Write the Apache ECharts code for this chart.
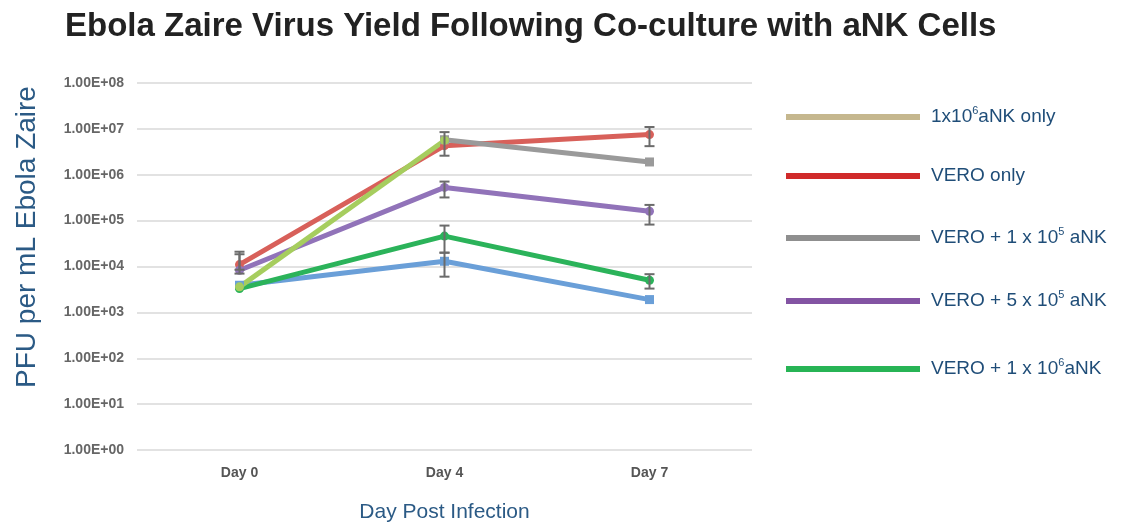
<!DOCTYPE html>
<html><head><meta charset="utf-8">
<script src="https://cdn.jsdelivr.net/npm/echarts@6/dist/echarts.min.js"></script>
<style>html,body{margin:0;padding:0;background:#fff;overflow:hidden}#c{width:1141px;height:528px}</style>
</head><body><div id="c"></div>
<script>
const categories = ['Day 0', 'Day 4', 'Day 7'];

// series values (PFU per mL)
const aNKOnly   = [3600, 5600000, null];
const veroOnly  = [11000, 4300000, 7500000];
const vero1e5   = [null, 5800000, 1900000];
const vero5e5   = [8300, 530000, 160000];
const vero1e6   = [3300, 46000, 5000];
const veroOther = [3900, 13000, 1900];

// error bar ranges (low / high)
const veroOnlyLow  = [8500, 2600000, 4200000];
const veroOnlyHigh = [21000, 8500000, 11000000];
const vero5e5Low   = [7000, 320000, 82000];
const vero5e5High  = [18500, 710000, 220000];
const vero1e6Low   = [null, 20000, 3300];
const vero1e6High  = [null, 78000, 6800];
const veroOtherLow  = [null, 6000, null];
const veroOtherHigh = [null, 20000, null];

const legendNames = ['aNK only', 'VERO only', 'VERO + 1e5 aNK', 'VERO + 5e5 aNK', 'VERO + 1e6 aNK'];
const legendLabels = ['1x10{sup|6}aNK only', 'VERO only', 'VERO + 1 x 10{sup|5} aNK', 'VERO + 5 x 10{sup|5} aNK', 'VERO + 1 x 10{sup|6}aNK'];
const legendColors = ['#c5b78e', '#d02a2a', '#8f8f8f', '#8354a3', '#27b455'];
const legendY = [117, 176, 238, 301, 369];

const FONT = 'Liberation Sans, Arial, sans-serif';
const chart = echarts.init(document.getElementById('c'));

function errSeries(low, high) {
  const d = [];
  low.forEach((l, i) => { if (l != null && high[i] != null) d.push([i, l, high[i]]); });
  return {
    type: 'custom', z: 10, silent: true, data: d,
    renderItem: function (params, api) {
      const x = api.value(0);
      const lo = api.coord([x, api.value(1)]);
      const hi = api.coord([x, api.value(2)]);
      const hw = 5;
      const st = { stroke: '#6b6b6b', lineWidth: 2 };
      return { type: 'group', children: [
        { type: 'line', shape: { x1: lo[0], y1: lo[1], x2: hi[0], y2: hi[1] }, style: st },
        { type: 'line', shape: { x1: lo[0]-hw, y1: lo[1], x2: lo[0]+hw, y2: lo[1] }, style: st },
        { type: 'line', shape: { x1: hi[0]-hw, y1: hi[1], x2: hi[0]+hw, y2: hi[1] }, style: st }
      ]};
    }
  };
}

function lineSeries(name, data, color, symbol) {
  return {
    name: name, type: 'line', data: data, connectNulls: false,
    symbol: symbol, symbolSize: 9, showSymbol: true,
    lineStyle: { color: color, width: 5 },
    itemStyle: { color: color }
  };
}

function fmtE(v) {
  const e = Math.round(Math.log10(v));
  return '1.00E+' + (e < 10 ? '0' + e : e);
}

const legends = legendNames.map((n, i) => ({
  data: [{ name: n, icon: 'rect', itemStyle: { color: legendColors[i] } }],
  left: 786, top: legendY[i] - 12, padding: 0,
  itemWidth: 134, itemHeight: 6,
  selectedMode: false,
  formatter: () => legendLabels[i],
  textStyle: {
    color: '#1f4d78', fontSize: 19, fontFamily: FONT,
    lineHeight: 24, padding: [0, 0, 0, 6],
    rich: { sup: { fontSize: 11, color: '#1f4d78', lineHeight: 12, verticalAlign: 'top', fontFamily: FONT } }
  }
}));

chart.setOption({
  animation: false,
  backgroundColor: '#fff',
  title: {
    text: 'Ebola Zaire Virus Yield Following Co-culture with aNK Cells',
    left: 60, top: 5,
    textStyle: { fontSize: 33, fontWeight: 'bold', color: '#222', fontFamily: FONT }
  },
  legend: legends,
  grid: { left: 137, right: 389, top: 83, bottom: 64, containLabel: false },
  xAxis: {
    type: 'category', data: categories, boundaryGap: true,
    axisLine: { show: false }, axisTick: { show: false },
    axisLabel: { color: '#555', fontWeight: 'bold', fontSize: 14, margin: 16, fontFamily: FONT },
    name: 'Day Post Infection', nameLocation: 'middle', nameGap: 52,
    nameTextStyle: { color: '#2b5a85', fontSize: 21, fontFamily: FONT }
  },
  yAxis: {
    type: 'log', logBase: 10, min: 1, max: 100000000,
    axisLine: { show: false }, axisTick: { show: false },
    splitLine: { lineStyle: { color: '#e2e2e2', width: 2 } },
    axisLabel: { color: '#666', fontWeight: 'bold', fontSize: 14, margin: 13, formatter: fmtE, fontFamily: FONT }
  },
  graphic: [{
    type: 'text', x: 27, y: 237, rotation: Math.PI / 2,
    style: { text: 'PFU per mL Ebola Zaire', fill: '#2b5a85', fontSize: 28, fontFamily: FONT, align: 'center', verticalAlign: 'middle' }
  }],
  series: [
    lineSeries('VERO only', veroOnly, '#d8605a', 'circle'),
    lineSeries('VERO + 1e5 aNK', vero1e5, '#9a9a9a', 'rect'),
    lineSeries('VERO + 5e5 aNK', vero5e5, '#9173b9', 'circle'),
    lineSeries('VERO other', veroOther, '#6a9fd8', 'rect'),
    lineSeries('VERO + 1e6 aNK', vero1e6, '#2bb35a', 'circle'),
    lineSeries('aNK only', aNKOnly, '#a6cd5e', 'circle'),
    errSeries(veroOnlyLow, veroOnlyHigh),
    errSeries(vero5e5Low, vero5e5High),
    errSeries(vero1e6Low, vero1e6High),
    errSeries(veroOtherLow, veroOtherHigh)
  ]
});
</script></body></html>
